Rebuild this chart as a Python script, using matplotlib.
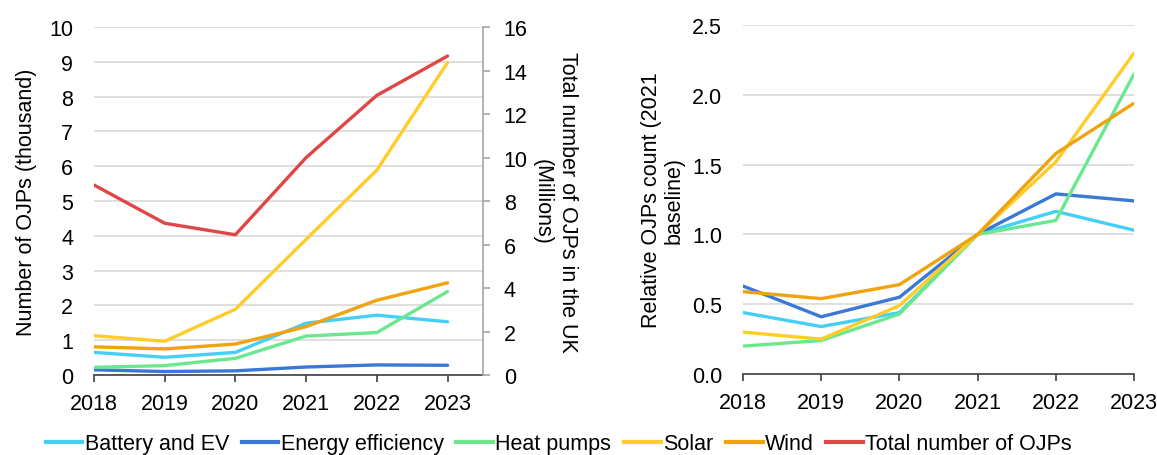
import matplotlib
matplotlib.use("Agg")
import matplotlib.pyplot as plt
from matplotlib.lines import Line2D
from matplotlib.ticker import FormatStrFormatter

plt.rcParams['font.family'] = ['Liberation Sans', 'DejaVu Sans']

years = [2018, 2019, 2020, 2021, 2022, 2023]
series_names = ["Battery and EV", "Energy efficiency", "Heat pumps", "Solar", "Wind"]
colors = ["#45CFF7", "#3A78D6", "#6BE88F", "#FFCC2A", "#F0A30C"]
total_color = "#E04646"

# Left: number of OJPs (thousand)
battery_k = [0.65, 0.51, 0.65, 1.49, 1.72, 1.53]
energy_k = [0.15, 0.10, 0.12, 0.23, 0.29, 0.28]
heat_k = [0.22, 0.27, 0.48, 1.12, 1.22, 2.40]
solar_k = [1.13, 0.97, 1.89, 3.90, 5.89, 8.98]
wind_k = [0.81, 0.75, 0.89, 1.39, 2.15, 2.65]
total_m = [8.74, 6.98, 6.45, 10.0, 12.86, 14.67]

# Right: relative to 2021
battery_r = [0.44, 0.34, 0.44, 1.0, 1.165, 1.03]
energy_r = [0.63, 0.41, 0.55, 1.0, 1.29, 1.24]
heat_r = [0.20, 0.24, 0.43, 1.0, 1.10, 2.15]
solar_r = [0.30, 0.25, 0.49, 1.0, 1.52, 2.30]
wind_r = [0.59, 0.54, 0.64, 1.0, 1.58, 1.94]

left_vals = [battery_k, energy_k, heat_k, solar_k, wind_k]
right_vals = [battery_r, energy_r, heat_r, solar_r, wind_r]

FS = 15.5
LW = 2.4
GRID = "#D9D9D9"
AXC = "#404040"

fig = plt.figure(figsize=(11.57, 4.56), dpi=100)

# ---- Left panel ----
ax = fig.add_axes([0.0812, 0.1754, 0.3362, 0.763])
for vals, c in zip(left_vals, colors):
    ax.plot(years, vals, color=c, lw=LW, solid_capstyle='round', zorder=3)
ax.set_xlim(2018, 2023.5)
ax.set_ylim(0, 10)
ax.set_yticks(range(0, 11))
ax.set_xticks(years)
ax.yaxis.grid(True, color=GRID, lw=1.2)
ax.set_axisbelow(True)
for s in ["left", "top", "right"]:
    ax.spines[s].set_visible(False)
ax.spines["bottom"].set_color(AXC)
ax.spines["bottom"].set_linewidth(1.2)
ax.tick_params(axis='y', length=0, pad=15, labelsize=FS)
ax.tick_params(axis='x', length=5, width=1.2, color=AXC, pad=8, labelsize=FS)
ax.set_ylabel("Number of OJPs (thousand)", fontsize=FS, labelpad=9)

ax2 = ax.twinx()
ax2.plot(years, total_m, color=total_color, lw=LW, solid_capstyle='round', zorder=4)
ax2.set_ylim(0, 16)
ax2.set_yticks(range(0, 17, 2))
for s in ["left", "top", "bottom"]:
    ax2.spines[s].set_visible(False)
ax2.spines["right"].set_color("#A6A6A6")
ax2.spines["right"].set_linewidth(1.2)
ax2.tick_params(axis='y', length=5, width=1.2, color="#A6A6A6", pad=10, labelsize=FS)
ax2.set_ylabel("Total number of OJPs in the UK\n(Millions)", fontsize=FS,
               rotation=270, labelpad=36, linespacing=1.25)

# ---- Right panel ----
bx = fig.add_axes([0.6422, 0.1776, 0.338, 0.7654])
for vals, c in zip(right_vals, colors):
    bx.plot(years, vals, color=c, lw=LW, solid_capstyle='round', zorder=3)
bx.set_xlim(2018, 2023)
bx.set_ylim(0, 2.5)
bx.set_yticks([0, 0.5, 1.0, 1.5, 2.0, 2.5])
bx.yaxis.set_major_formatter(FormatStrFormatter('%.1f'))
bx.set_xticks(years)
bx.yaxis.grid(True, color=GRID, lw=1.2)
bx.set_axisbelow(True)
for s in ["left", "top", "right"]:
    bx.spines[s].set_visible(False)
bx.spines["bottom"].set_color(AXC)
bx.spines["bottom"].set_linewidth(1.2)
bx.tick_params(axis='y', length=0, pad=15, labelsize=FS)
bx.tick_params(axis='x', length=5, width=1.2, color=AXC, pad=8, labelsize=FS)
bx.set_ylabel("Relative OJPs count (2021\nbaseline)", fontsize=FS, labelpad=5, linespacing=1.1)

# ---- Legend ----
handles = [Line2D([0], [0], color=c, lw=LW + 0.6) for c in colors]
handles.append(Line2D([0], [0], color=total_color, lw=LW + 0.6))
labels = series_names + ["Total number of OJPs"]
fig.legend(handles, labels, loc='center', bbox_to_anchor=(0.483, 0.025), ncol=6,
           frameon=False, fontsize=FS, handlelength=1.7, handletextpad=0.1,
           columnspacing=0.6, borderpad=0)

fig.savefig("out.png", dpi=100)
